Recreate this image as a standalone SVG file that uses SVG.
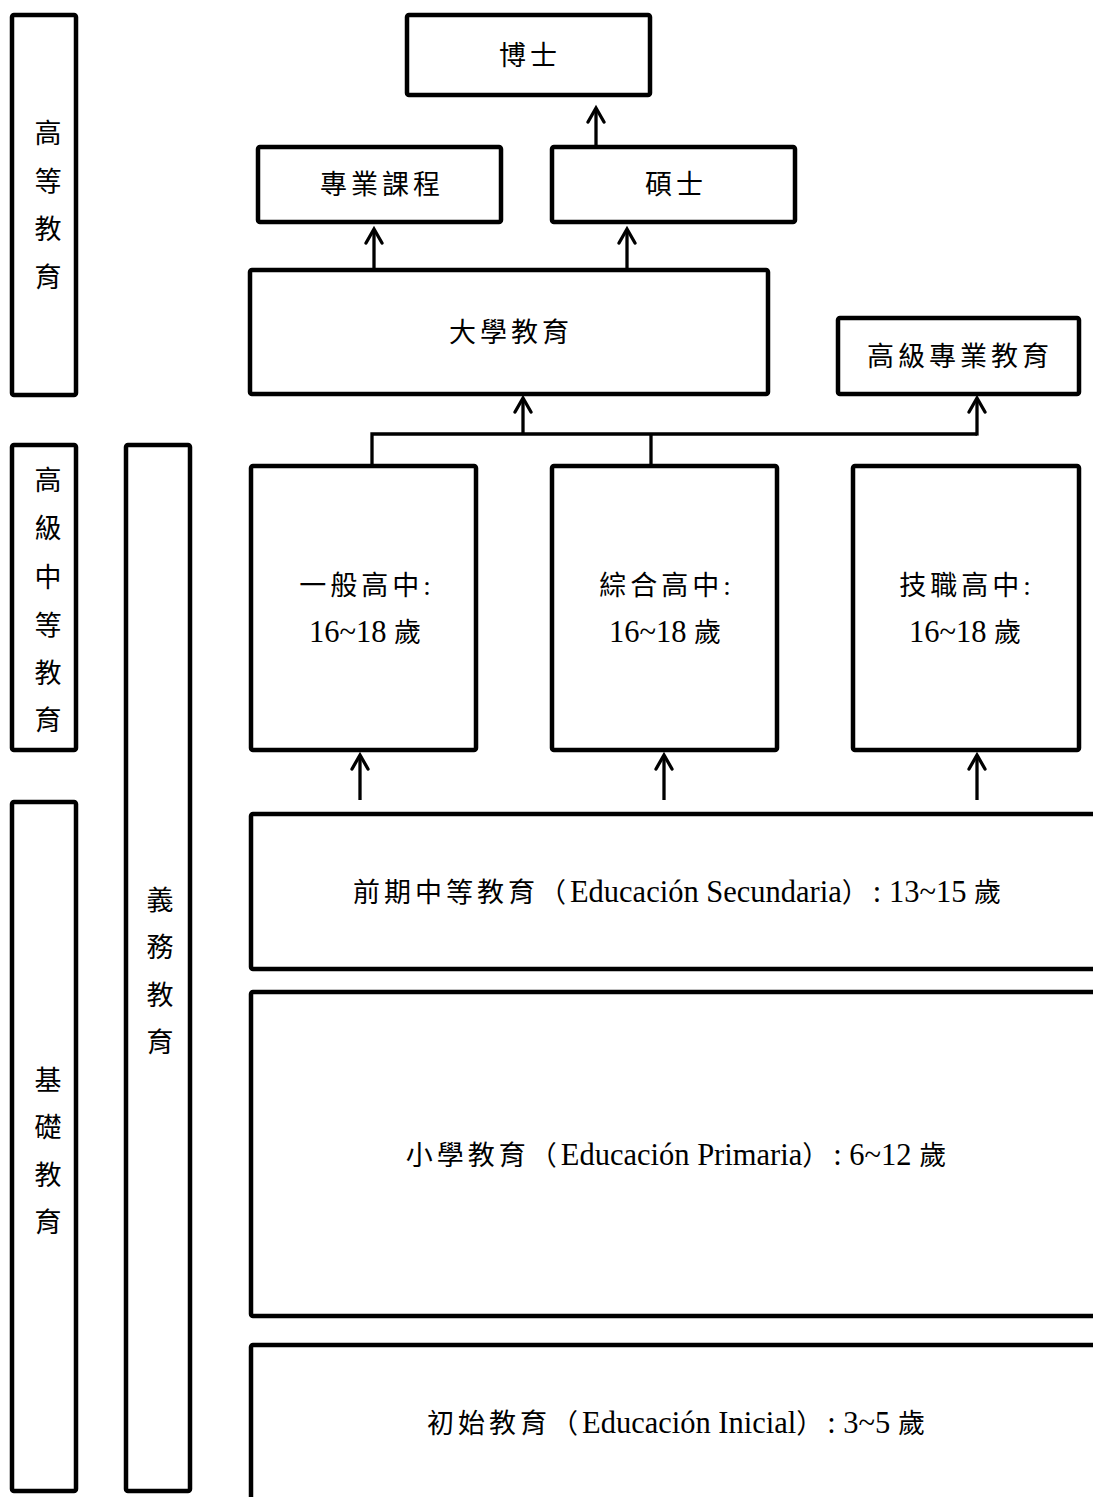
<svg xmlns="http://www.w3.org/2000/svg" width="1093" height="1497" viewBox="0 0 1093 1497">
<style>
.box{fill:#fff;stroke:#000;stroke-width:4.5;stroke-linejoin:round}
.t{font-family:"Liberation Serif","Noto Sans CJK TC",serif;font-size:30.5px;fill:#000}
.c{font-size:27px;letter-spacing:4px}
.k{font-size:27px}
.m{text-anchor:middle}
.con{fill:none;stroke:#000;stroke-width:3.3}
</style>
<defs>
<marker id="ah" markerUnits="userSpaceOnUse" markerWidth="24" markerHeight="24" viewBox="-16 -12 24 24" refX="0" refY="0" orient="auto">
<path d="M-14,-8 L0,0 L-14,8" fill="none" stroke="#000" stroke-width="3.3" stroke-linecap="round" stroke-linejoin="miter"/>
</marker>
</defs>
<rect width="1093" height="1497" fill="#fff"/>

<g id="higher-edu">
<rect class="box" x="12" y="15" width="64" height="380" rx="2"/>
<text class="t k m" x="48"><tspan x="48" y="143">高</tspan><tspan x="48" y="191">等</tspan><tspan x="48" y="239">教</tspan><tspan x="48" y="287">育</tspan></text>
</g>
<g id="upper-secondary">
<rect class="box" x="12" y="445" width="64" height="305" rx="2"/>
<text class="t k m" x="48"><tspan x="48" y="490">高</tspan><tspan x="48" y="538">級</tspan><tspan x="48" y="587">中</tspan><tspan x="48" y="635">等</tspan><tspan x="48" y="683">教</tspan><tspan x="48" y="730">育</tspan></text>
</g>
<g id="basic-edu">
<rect class="box" x="12" y="802" width="64" height="689" rx="2"/>
<text class="t k m" x="48"><tspan x="48" y="1090">基</tspan><tspan x="48" y="1137">礎</tspan><tspan x="48" y="1185">教</tspan><tspan x="48" y="1232">育</tspan></text>
</g>
<g id="compulsory">
<rect class="box" x="126" y="445" width="64" height="1046" rx="2"/>
<text class="t k m" x="160"><tspan x="160" y="910">義</tspan><tspan x="160" y="957">務</tspan><tspan x="160" y="1005">教</tspan><tspan x="160" y="1052">育</tspan></text>
</g>

<g id="phd">
<rect class="box" x="407" y="15" width="243" height="80" rx="2"/>
<text class="t c m" x="530" y="65">博士</text>
</g>
<g id="professional">
<rect class="box" x="258" y="147" width="243" height="75" rx="2"/>
<text class="t c m" x="382" y="194">專業課程</text>
</g>
<g id="master">
<rect class="box" x="552" y="147" width="243" height="75" rx="2"/>
<text class="t c m" x="676" y="194">碩士</text>
</g>
<g id="university">
<rect class="box" x="250" y="270" width="518" height="124" rx="2"/>
<text class="t c m" x="511" y="342">大學教育</text>
</g>
<g id="higher-professional">
<rect class="box" x="838" y="318" width="241" height="76" rx="2"/>
<text class="t c m" x="960" y="366">高級專業教育</text>
</g>

<g id="general-hs">
<rect class="box" x="251" y="466" width="225" height="284" rx="2"/>
<text class="t c m" x="367" y="595">一般高中:</text>
<text class="t m" x="365" y="642">16~18 <tspan class="k">歲</tspan></text>
</g>
<g id="comprehensive-hs">
<rect class="box" x="552" y="466" width="225" height="284" rx="2"/>
<text class="t c m" x="667" y="595">綜合高中:</text>
<text class="t m" x="665" y="642">16~18 <tspan class="k">歲</tspan></text>
</g>
<g id="vocational-hs">
<rect class="box" x="853" y="466" width="226" height="284" rx="2"/>
<text class="t c m" x="967" y="595">技職高中:</text>
<text class="t m" x="965" y="642">16~18 <tspan class="k">歲</tspan></text>
</g>

<g id="lower-secondary">
<rect class="box" x="251" y="814" width="900" height="155" rx="2"/>
<text class="t m" x="677" y="902"><tspan class="c">前期中等教育（</tspan>Educación Secundaria<tspan class="c">）</tspan>: 13~15 <tspan class="k">歲</tspan></text>
</g>
<g id="primary">
<rect class="box" x="251" y="992" width="900" height="324" rx="2"/>
<text class="t m" x="676" y="1165"><tspan class="c">小學教育（</tspan>Educación Primaria<tspan class="c">）</tspan>: 6~12 <tspan class="k">歲</tspan></text>
</g>
<g id="initial">
<rect class="box" x="251" y="1345" width="900" height="200" rx="2"/>
<text class="t m" x="676" y="1433"><tspan class="c">初始教育（</tspan>Educación Inicial<tspan class="c">）</tspan>: 3~5 <tspan class="k">歲</tspan></text>
</g>

<g id="connectors">
<line class="con" x1="596" y1="145" x2="596" y2="108" marker-end="url(#ah)"/>
<line class="con" x1="374" y1="268" x2="374" y2="229" marker-end="url(#ah)"/>
<line class="con" x1="627" y1="268" x2="627" y2="229" marker-end="url(#ah)"/>
<polyline class="con" points="372,464 372,434 977,434"/>
<line class="con" x1="651" y1="434" x2="651" y2="464"/>
<line class="con" x1="523" y1="434" x2="523" y2="398" marker-end="url(#ah)"/>
<line class="con" x1="977" y1="435.6" x2="977" y2="398" marker-end="url(#ah)"/>
<line class="con" x1="360" y1="800" x2="360" y2="755" marker-end="url(#ah)"/>
<line class="con" x1="664" y1="800" x2="664" y2="755" marker-end="url(#ah)"/>
<line class="con" x1="977" y1="800" x2="977" y2="755" marker-end="url(#ah)"/>
</g>
</svg>
